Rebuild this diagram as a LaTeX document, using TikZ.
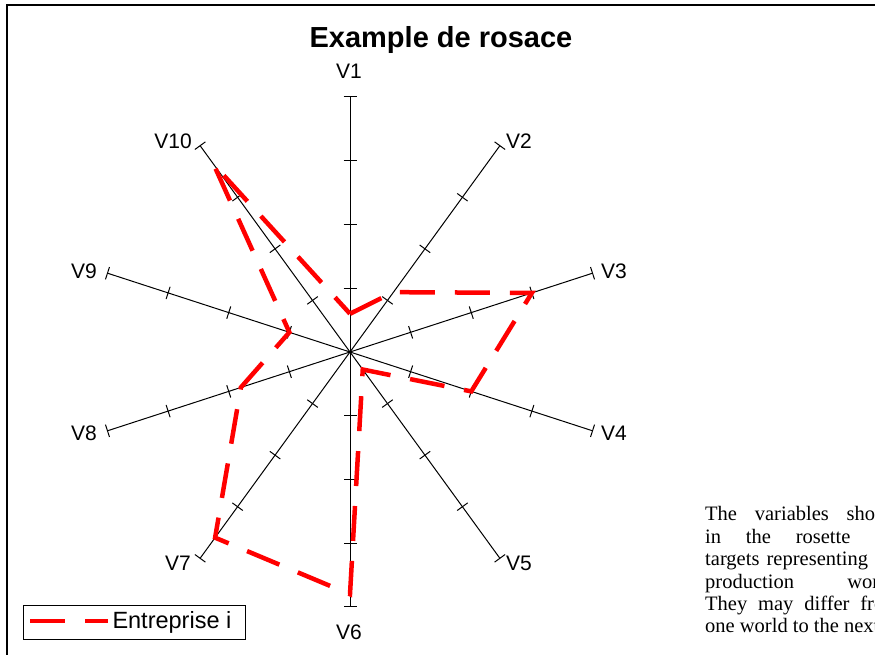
\documentclass[tikz,border=0pt]{standalone}
\usepackage{fontspec}
\setmainfont{Liberation Sans}
\newfontfamily\notefont{Liberation Serif}
\usetikzlibrary{calc}

\begin{document}
\begin{tikzpicture}[x=1pt, y=1pt,
    axisline/.style={line width=1pt},
    tickmark/.style={line width=1pt},
    profil/.style={red, line width=4.5pt, dash pattern=on 35pt off 20pt},
    axislabel/.style={font=\fontsize{21}{25}\selectfont, inner sep=0pt}]
    \useasboundingbox (0,0) rectangle (875,655);
    \clip (0,0) rectangle (875,655);

    % Frame and title
    \draw[line width=2pt] (6.7,-5) -- (6.7,649.7) -- (880,649.7);
    \node[font=\bfseries\fontsize{29}{34}\selectfont, anchor=base, inner sep=0pt] (title) at (441,607) {Example de rosace};

    % Axes with ticks
    \coordinate (O) at (350,303);
    \foreach \i in {1,...,10} {
        \pgfmathsetmacro{\a}{90-36*(\i-1)}
        \coordinate (e\i) at ($(O)+(\a:255)$);
        \draw[axisline] (O) -- (e\i);
        \foreach \j in {1,...,4}
            \draw[tickmark] ($(O)+(\a:63.75*\j)+(\a+90:6.5)$) -- ($(O)+(\a:63.75*\j)+(\a-90:6.5)$);
    }

    % Axis labels
    \foreach \i/\lx/\ly in {1/349/71, 2/519/141, 3/614/271, 4/614/433, 5/519/563,
                            6/349/632, 7/178/563, 8/84/433, 9/84/271, 10/173/141}
        \node[axislabel] (v\i) at (\lx,655-\ly) {V\i};

    % Profile of the firm
    \foreach \i/\v in {1/0.15, 2/0.29, 3/0.75, 4/0.5, 5/0.085, 6/0.95, 7/0.9, 8/0.45, 9/0.25, 10/0.91}
        \coordinate (p\i) at ($(O)+({90-36*(\i-1)}:255*\v)$);
    \draw[profil] (p1) -- (p2) -- (p3) -- (p4) -- (p5) -- (p6) -- (p7) -- (p8) -- (p9) -- (p10) -- cycle;

    % Legend
    \node[draw, line width=0.8pt, minimum width=221.7, minimum height=34.3, anchor=north west, inner sep=0pt] (legend) at (23.3,50) {};
    \draw[profil] ($(legend.west)+(7,1.3)$) -- ++(78,0);
    \node[anchor=west, inner sep=0pt, font=\fontsize{23.5}{28}\selectfont] (legtext) at ($(legend.west)+(89,0)$) {Entreprise i};

    % Note
    \node[anchor=north west, inner sep=0pt, text width=195pt, align=justify,
          font=\notefont\fontsize{20.5}{22.4}\selectfont] (note) at (705,148.5)
        {\tolerance=10000 \hyphenpenalty=10000 The variables shown\linebreak in the rosette are\linebreak targets representing the\linebreak production world.\linebreak They may differ from\linebreak one world to the next.};
\end{tikzpicture}
\end{document}
